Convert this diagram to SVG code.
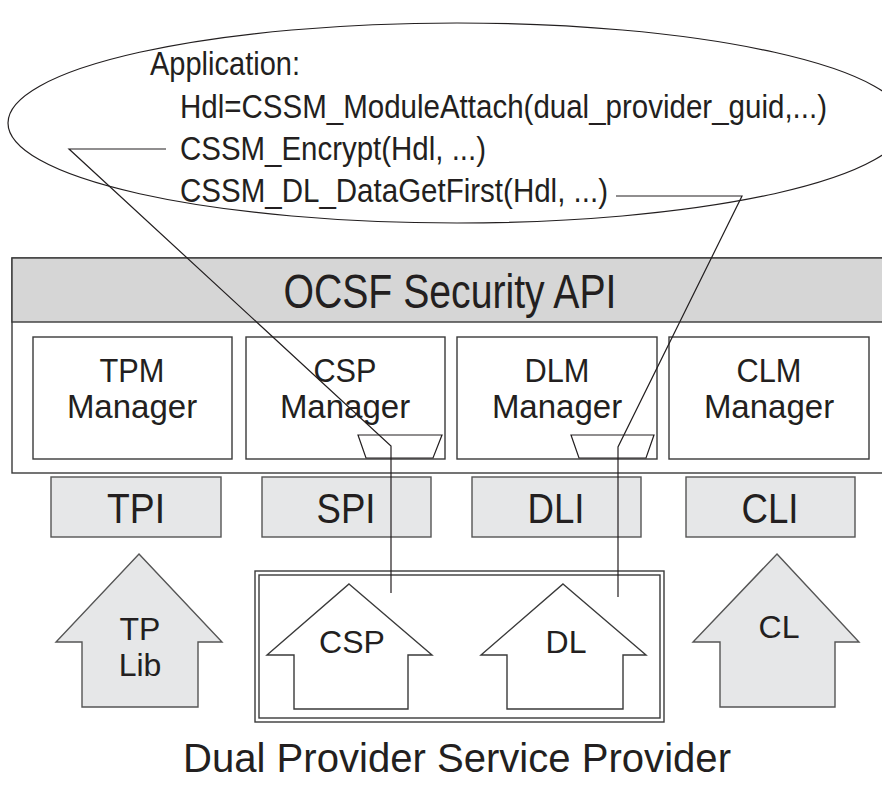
<svg xmlns="http://www.w3.org/2000/svg" width="882" height="788" viewBox="0 0 882 788">
<style>
text{font-family:"Liberation Sans",Arial,sans-serif;fill:#231f20}
.ln{fill:none;stroke:#231f20;stroke-width:1.2}
.box{fill:#fff;stroke:#3a3a3a;stroke-width:1.4}
.gbox{fill:#e6e7e8;stroke:#555;stroke-width:1.4}
.code{font-size:33px}
.mgr{font-size:33px;text-anchor:middle}
.ifc{font-size:42px;text-anchor:middle}
.arr{font-size:32px;text-anchor:middle}
</style>
<rect width="882" height="788" fill="#fff"/>
<g id="application">
<ellipse cx="457" cy="123" rx="449" ry="100" class="ln"/>
<text class="code" x="150" y="75" textLength="150" lengthAdjust="spacingAndGlyphs">Application:</text>
<text class="code" x="180" y="118" textLength="647" lengthAdjust="spacingAndGlyphs">Hdl=CSSM_ModuleAttach(dual_provider_guid,...)</text>
<text class="code" x="180" y="160" textLength="306" lengthAdjust="spacingAndGlyphs">CSSM_Encrypt(Hdl, ...)</text>
<text class="code" x="180" y="202" textLength="428" lengthAdjust="spacingAndGlyphs">CSSM_DL_DataGetFirst(Hdl, ...)</text>
</g>
<g id="security-api">
<rect x="12" y="258" width="880" height="215" class="box"/>
<rect x="12" y="258" width="880" height="64" fill="#d6d6d6" stroke="#3a3a3a" stroke-width="1.4"/>
<text x="450" y="308" font-size="48" text-anchor="middle" textLength="333" lengthAdjust="spacingAndGlyphs">OCSF Security API</text>
</g>
<g id="tpm-manager">
<rect x="33" y="337" width="199" height="122" class="box"/>
<text class="mgr" x="132" y="382" textLength="65" lengthAdjust="spacingAndGlyphs">TPM</text>
<text class="mgr" x="132" y="418">Manager</text>
</g>
<g id="csp-manager">
<rect x="246" y="337" width="199" height="122" class="box"/>
<text class="mgr" x="345" y="382" textLength="63" lengthAdjust="spacingAndGlyphs">CSP</text>
<text class="mgr" x="345" y="418">Manager</text>
<polygon points="358,435 442,435 433,458 366,458" class="ln"/>
</g>
<g id="dlm-manager">
<rect x="457" y="337" width="200" height="122" class="box"/>
<text class="mgr" x="557" y="382" textLength="65" lengthAdjust="spacingAndGlyphs">DLM</text>
<text class="mgr" x="557" y="418">Manager</text>
<polygon points="571,435 654,435 646,458 579,458" class="ln"/>
</g>
<g id="clm-manager">
<rect x="669" y="337" width="200" height="122" class="box"/>
<text class="mgr" x="769" y="382" textLength="65" lengthAdjust="spacingAndGlyphs">CLM</text>
<text class="mgr" x="769" y="418">Manager</text>
</g>
<g id="tpi"><rect x="51" y="477" width="170" height="60" class="gbox"/><text class="ifc" x="136" y="523" textLength="58" lengthAdjust="spacingAndGlyphs">TPI</text></g>
<g id="spi"><rect x="262" y="477" width="169" height="60" class="gbox"/><text class="ifc" x="346" y="523" textLength="59" lengthAdjust="spacingAndGlyphs">SPI</text></g>
<g id="dli"><rect x="472" y="477" width="169" height="60" class="gbox"/><text class="ifc" x="556" y="523" textLength="57" lengthAdjust="spacingAndGlyphs">DLI</text></g>
<g id="cli"><rect x="686" y="477" width="169" height="60" class="gbox"/><text class="ifc" x="770" y="523" textLength="57" lengthAdjust="spacingAndGlyphs">CLI</text></g>
<g id="tp-lib">
<polygon points="139,554 222,642 198,642 198,707 82,707 82,642 56,642" class="gbox"/>
<text class="arr" x="140" y="640">TP</text>
<text class="arr" x="140" y="676">Lib</text>
</g>
<g id="dual-provider">
<rect x="255" y="571" width="409" height="151" fill="none" stroke="#3a3a3a" stroke-width="1.4"/>
<rect x="259" y="575" width="401" height="143" fill="none" stroke="#3a3a3a" stroke-width="1.4"/>
</g>
<g id="csp">
<polygon points="349,584 432,655 408,655 408,709 294,709 294,655 267,655" class="box"/>
<text class="arr" x="352" y="653">CSP</text>
</g>
<g id="dl">
<polygon points="563,584 646,655 623,655 623,709 507,709 507,655 481,655" class="box"/>
<text class="arr" x="566" y="653">DL</text>
</g>
<g id="cl">
<polygon points="777,554 859,642 835,642 835,707 720,707 720,642 693,642" class="gbox"/>
<text class="arr" x="779" y="638">CL</text>
</g>
<g id="connectors">
<polyline points="166,149 69,149 391,446 391,593" class="ln"/>
<polyline points="616,196 742,196 618,447 618,597" class="ln"/>
</g>
<g id="title">
<text x="183" y="772" font-size="40" textLength="548" lengthAdjust="spacingAndGlyphs">Dual  Provider Service Provider</text>
</g>
</svg>
